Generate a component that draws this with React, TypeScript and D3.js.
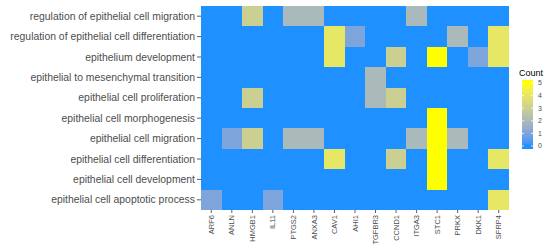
import React from "react";
import * as d3 from "d3";

const terms = [
  "regulation of epithelial cell migration",
  "regulation of epithelial cell differentiation",
  "epithelium development",
  "epithelial to mesenchymal transition",
  "epithelial cell proliferation",
  "epithelial cell morphogenesis",
  "epithelial cell migration",
  "epithelial cell differentiation",
  "epithelial cell development",
  "epithelial cell apoptotic process",
];

const genes = [
  "ARF6", "ANLN", "HMGB1", "IL11", "PTGS2", "ANXA3", "CAV1", "AHI1",
  "TGFBR3", "CCND1", "ITGA3", "STC1", "PRKX", "DKK1", "SFRP4",
];

// one row per term, one value per gene
const counts = [
  [0, 0, 3, 0, 2, 2, 0, 0, 0, 0, 2, 0, 0, 0, 0],
  [0, 0, 0, 0, 0, 0, 4, 1, 0, 0, 0, 0, 2, 0, 4],
  [0, 0, 0, 0, 0, 0, 4, 0, 0, 3, 0, 5, 0, 1, 4],
  [0, 0, 0, 0, 0, 0, 0, 0, 2, 0, 0, 0, 0, 0, 0],
  [0, 0, 3, 0, 0, 0, 0, 0, 2, 3, 0, 0, 0, 0, 0],
  [0, 0, 0, 0, 0, 0, 0, 0, 0, 0, 0, 5, 0, 0, 0],
  [0, 1, 3, 0, 2, 2, 0, 0, 0, 0, 2, 5, 2, 0, 0],
  [0, 0, 0, 0, 0, 0, 4, 0, 0, 3, 0, 5, 0, 0, 4],
  [0, 0, 0, 0, 0, 0, 0, 0, 0, 0, 0, 5, 0, 0, 0],
  [1, 0, 0, 1, 0, 0, 0, 0, 0, 0, 0, 0, 0, 0, 4],
];

const legendTicks = [0, 1, 2, 3, 4, 5];

const App = () => {
  const width = 550;
  const height = 245;
  const panel = { left: 201, right: 509, top: 6, bottom: 210 };

  const x = d3.scaleBand().domain(genes).range([panel.left, panel.right]);
  const y = d3.scaleBand().domain(terms).range([panel.top, panel.bottom]);
  const color = d3
    .scaleLinear<string>()
    .domain([0, 5])
    .range(["#1E90FF", "#FFFF00"])
    .interpolate(d3.interpolateLab);

  const cells = counts.flatMap((row, i) =>
    row.map((v, j) => ({ term: terms[i], gene: genes[j], v }))
  );

  const bar = { x: 522, w: 11, top: 80, bottom: 149 };
  const ly = d3.scaleLinear().domain([0, 5]).range([146, 83]);
  const stops = d3.range(0, 5.01, 0.25);

  return (
    <svg
      width={width}
      height={height}
      style={{ position: "absolute", left: 0, top: 0, fontFamily: "Liberation Sans, Arial, sans-serif" }}
    >
      <defs>
        <linearGradient id="cbar" x1="0" y1="1" x2="0" y2="0">
          {stops.map((s) => (
            <stop
              key={s}
              offset={(bar.bottom - ly(s)) / (bar.bottom - bar.top)}
              stopColor={color(s)}
            />
          ))}
        </linearGradient>
      </defs>
      <rect width={width} height={height} fill="white" />
      <g shapeRendering="crispEdges">
        {cells.map((c) => {
          const x0 = Math.round(x(c.gene) as number);
          const x1 = Math.round((x(c.gene) as number) + x.bandwidth());
          const y0 = Math.round(y(c.term) as number);
          const y1 = Math.round((y(c.term) as number) + y.bandwidth());
          return (
            <rect key={c.term + c.gene} x={x0} y={y0} width={x1 - x0} height={y1 - y0} fill={color(c.v)} />
          );
        })}
      </g>
      {terms.map((t) => {
        const cy = (y(t) as number) + y.bandwidth() / 2;
        return (
          <g key={t}>
            <line x1={panel.left - 4} x2={panel.left} y1={cy} y2={cy} stroke="#333" strokeWidth={0.8} />
            <text x={panel.left - 6} y={cy} dy="0.35em" textAnchor="end" fontSize={10.4} fill="#4d4d4d">
              {t}
            </text>
          </g>
        );
      })}
      {genes.map((g) => {
        const cx = (x(g) as number) + x.bandwidth() / 2;
        return (
          <g key={g}>
            <line x1={cx} x2={cx} y1={panel.bottom} y2={panel.bottom + 3} stroke="#333" strokeWidth={0.8} />
            <text
              transform={`translate(${cx},${panel.bottom + 5}) rotate(-90)`}
              dy="0.35em"
              textAnchor="end"
              fontSize={7.5}
              fill="#4d4d4d"
            >
              {g}
            </text>
          </g>
        );
      })}
      <text x={519} y={76} fontSize={9} fill="#000">
        Count
      </text>
      <rect x={bar.x} y={bar.top} width={bar.w} height={bar.bottom - bar.top} fill="url(#cbar)" />
      {legendTicks.map((t) => (
        <g key={t}>
          <line x1={bar.x} x2={bar.x + 2} y1={ly(t)} y2={ly(t)} stroke="white" strokeWidth={0.8} />
          <line x1={bar.x + bar.w - 2} x2={bar.x + bar.w} y1={ly(t)} y2={ly(t)} stroke="white" strokeWidth={0.8} />
          <text x={538} y={ly(t)} dy="0.35em" fontSize={7} fill="#4d4d4d">
            {t}
          </text>
        </g>
      ))}
    </svg>
  );
};

export default App;
